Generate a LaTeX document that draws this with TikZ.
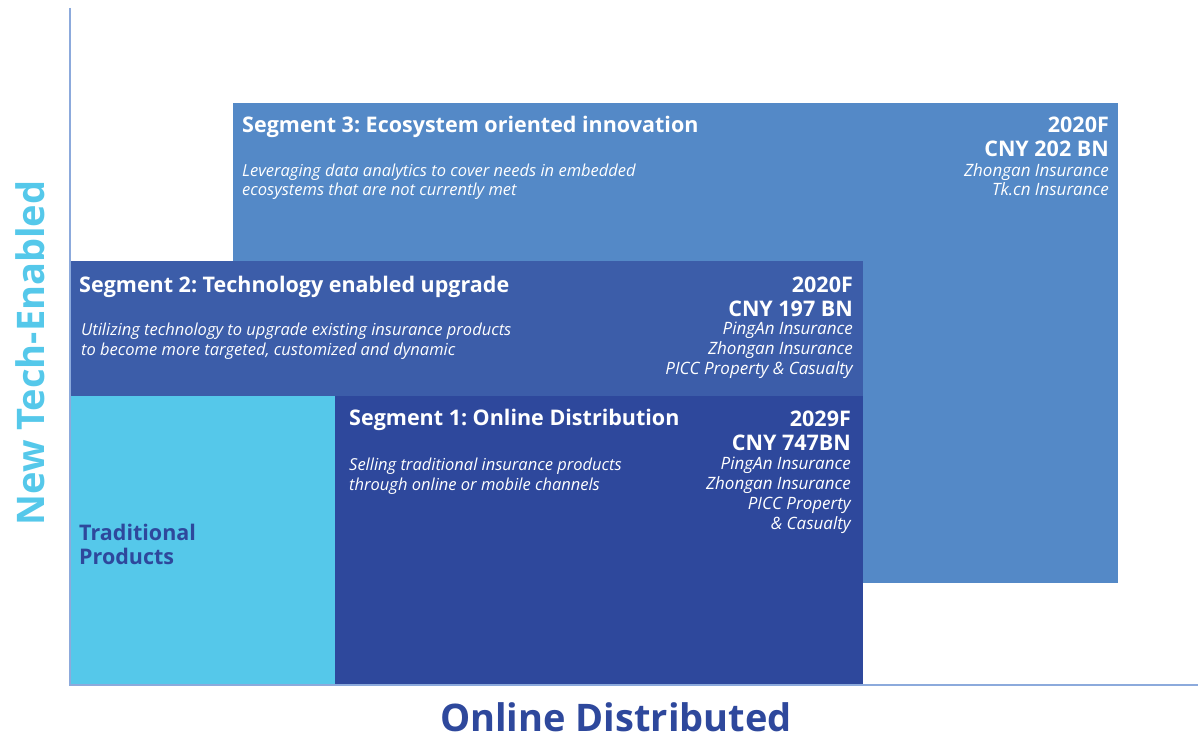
\documentclass[tikz,border=0pt]{standalone}
\usepackage{fontspec}
\setmainfont{Open Sans}
\frenchspacing
\definecolor{segthree}{RGB}{84,137,199}
\definecolor{segtwo}{RGB}{60,93,169}
\definecolor{segone}{RGB}{46,72,156}
\definecolor{tradblue}{RGB}{85,200,234}
\definecolor{axisblue}{RGB}{140,170,220}
\tikzset{
  title/.style={font=\fontsize{21.5}{24}\selectfont\bfseries, text=white, inner sep=0pt},
  figure/.style={font=\fontsize{21.5}{24}\selectfont\bfseries, text=white, inner sep=0pt, align=right},
  desc/.style={font=\fontsize{16.5}{20}\selectfont\itshape, text=white, inner sep=0pt, align=left},
  firms/.style={font=\fontsize{17}{19.7}\selectfont\itshape, text=white, inner sep=0pt, align=right},
  axislabel/.style={font=\fontsize{38}{44}\selectfont\bfseries, inner sep=0pt}
}
\begin{document}
\begin{tikzpicture}[x=1pt,y=-1pt]
    \useasboundingbox (0,0) rectangle (1198,738);
    % boxes
    \fill[segthree] (233,103) rectangle (1118,583);
    \fill[segtwo] (69,261) rectangle (863,396);
    \fill[tradblue] (69,396) rectangle (335,685);
    \fill[segone] (335,396) rectangle (863,685);
    % axes
    \coordinate (top) at (70,8);
    \coordinate (origin) at (70,685);
    \coordinate (right) at (1198,685);
    \draw[axisblue, line width=1.5pt] (top)--(origin)--(right);
    \node[axislabel, text=tradblue, rotate=90, anchor=center](ylab) at (30,353) {New Tech-Enabled};
    \node[axislabel, text=segone, anchor=base](xlab) at (616,731) {Online Distributed};
    % segment 3 (multi-line nodes sit on their last baseline)
    \node[title, anchor=base west](s3title) at (242,133) {Segment 3: Ecosystem oriented innovation};
    \node[desc, anchor=base west](s3desc) at (242,196) {Leveraging data analytics to cover needs in embedded\\ecosystems that are not currently met};
    \node[figure, anchor=base east](s3size) at (1109,157) {2020F\\CNY 202 BN};
    \node[firms, anchor=base east](s3firms) at (1109,196) {Zhongan Insurance\\Tk.cn Insurance};
    % segment 2
    \node[title, anchor=base west](s2title) at (79,292) {Segment 2: Technology enabled upgrade};
    \node[desc, anchor=base west](s2desc) at (81,355) {Utilizing technology to upgrade existing insurance products\\to become more targeted, customized and dynamic};
    \node[figure, anchor=base east](s2size) at (853,316) {2020F\\CNY 197 BN};
    \node[firms, anchor=base east](s2firms) at (853,374) {PingAn Insurance\\Zhongan Insurance\\PICC Property \& Casualty};
    % segment 1
    \node[title, anchor=base west](s1title) at (349,425) {Segment 1: Online Distribution};
    \node[desc, anchor=base west](s1desc) at (349,490) {Selling traditional insurance products\\through online or mobile channels};
    \node[figure, anchor=base east](s1size) at (851,450) {2029F\\CNY 747BN};
    \node[firms, anchor=base east](s1firms) at (851,529) {PingAn Insurance\\Zhongan Insurance\\PICC Property\\\& Casualty};
    % traditional
    \node[title, text=segone, align=left, anchor=base west](trad) at (79,564) {Traditional\\Products};
\end{tikzpicture}
\end{document}
